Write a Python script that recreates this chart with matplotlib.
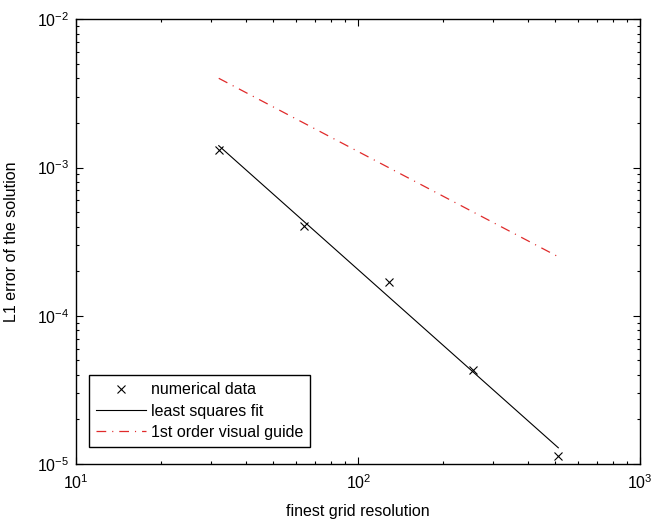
import matplotlib
matplotlib.use("Agg")
import matplotlib.pyplot as plt
import numpy as np

# grid resolution vs L1 error
resolution = np.array([32, 64, 128, 256, 512])
l1_error = np.array([1.31e-3, 4.04e-4, 1.70e-4, 4.28e-5, 1.14e-5])

# first order visual guide end points
guide_x = np.array([32, 512])
guide_y = np.array([4.0e-3, 2.5e-4])

plt.rcParams['font.family'] = ['Liberation Sans', 'DejaVu Sans']
plt.rcParams['mathtext.fontset'] = 'custom'
plt.rcParams['mathtext.rm'] = 'Liberation Sans'
plt.rcParams['mathtext.it'] = 'Liberation Sans:italic'
plt.rcParams['mathtext.bf'] = 'Liberation Sans:bold'
plt.rcParams['lines.scale_dashes'] = False

fig = plt.figure(figsize=(6.52, 5.2), dpi=100)
ax = fig.add_axes([76.3 / 652, 1 - 464 / 520, (640.3 - 76.3) / 652, (464 - 19.3) / 520])

# least squares fit in log-log space
slope, icept = np.polyfit(np.log10(resolution), np.log10(l1_error), 1)
fit_y = 10 ** (icept + slope * np.log10(resolution))

ax.plot(resolution, l1_error, 'x', color='black', markersize=5.5, mew=0.8,
        label='numerical data')
ax.plot(resolution, fit_y, '-', color='black', lw=0.8, label='least squares fit')
ax.plot(guide_x, guide_y, color='#e02a2a', lw=0.9,
        linestyle=(0, (7, 4.3, 0.8, 4.3)), label='1st order visual guide')

ax.set_xscale('log')
ax.set_yscale('log')
ax.set_xlim(10, 1000)
ax.set_ylim(1e-5, 1e-2)

fmt = matplotlib.ticker.FuncFormatter(
    lambda v, p: r'$\mathregular{10^{%d}}$' % round(np.log10(v)))
ax.xaxis.set_major_formatter(fmt)
ax.yaxis.set_major_formatter(fmt)
ax.tick_params(which='both', direction='in', top=True, right=True,
               labelsize=11.5, width=0.8)
ax.tick_params(which='major', length=5, pad=5)
ax.tick_params(axis='x', which='major', pad=7)
ax.tick_params(which='minor', length=2.5)
for s in ax.spines.values():
    s.set_linewidth(1.0)

ax.set_xlabel('finest grid resolution', fontsize=11.5, labelpad=8)
ax.set_ylabel('L1 error of the solution', fontsize=11.5, labelpad=13)

leg = ax.legend(loc='lower left', bbox_to_anchor=(0.023, 0.038), borderaxespad=0,
                fontsize=11.5, fancybox=False, framealpha=1, edgecolor='black',
                handlelength=3.1, handletextpad=0.3, labelspacing=0.4,
                borderpad=0.45)
leg.get_frame().set_linewidth(1.0)

fig.savefig('out.png', dpi=100)
